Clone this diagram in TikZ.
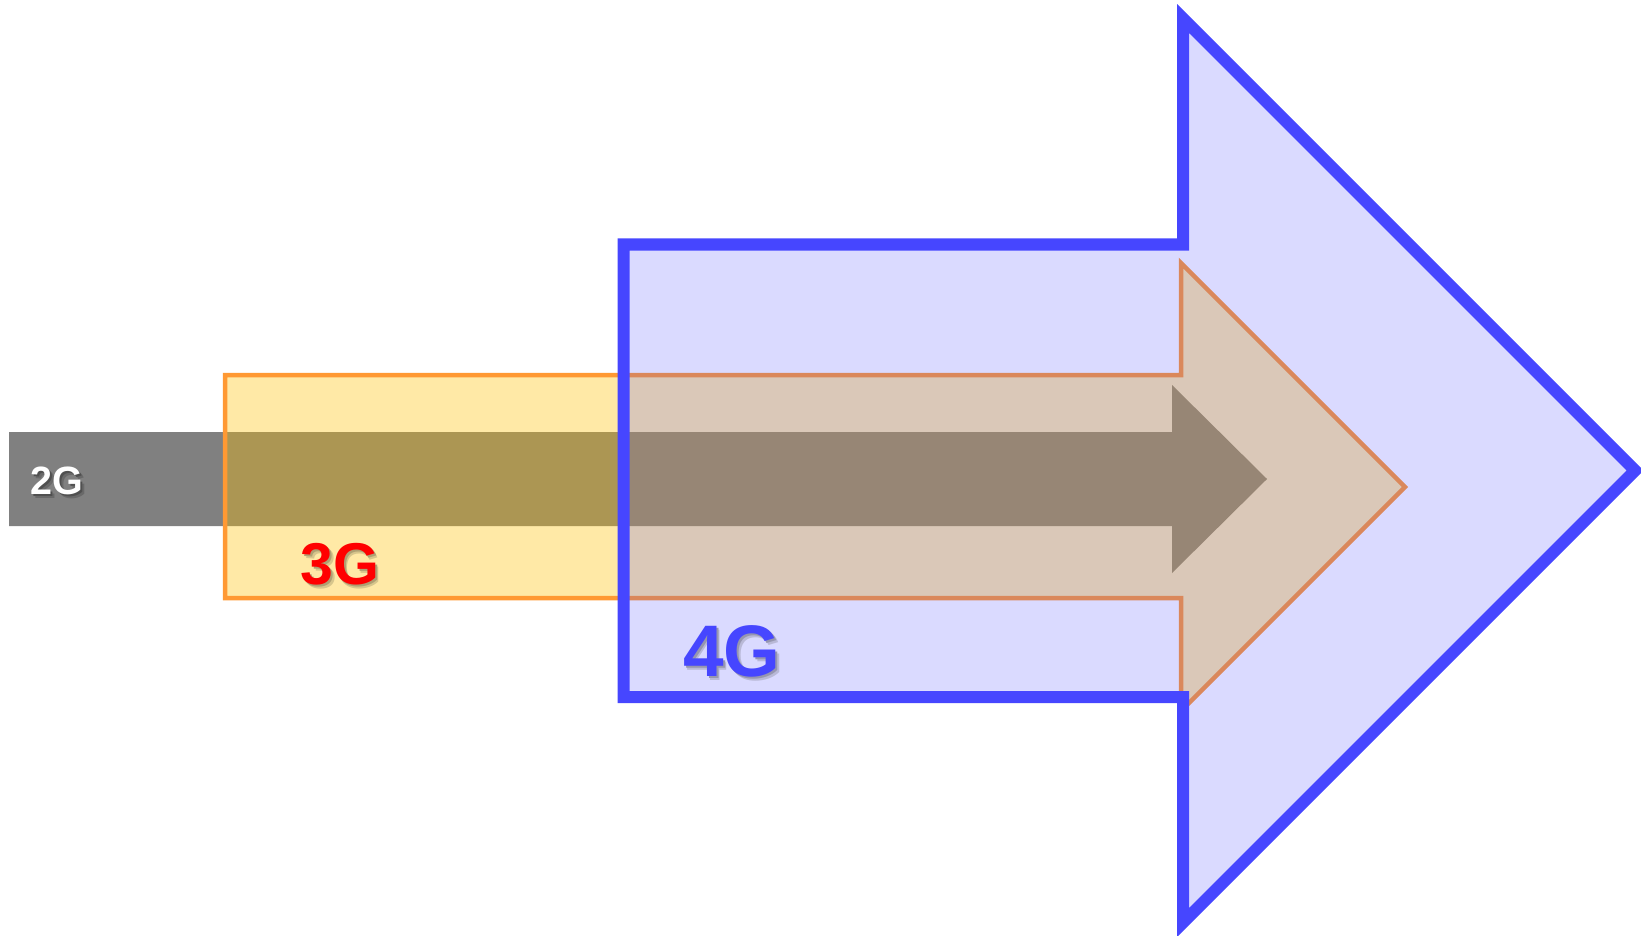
\documentclass[tikz,border=0pt]{standalone}
\usepackage{fontspec}
\setmainfont{Liberation Sans}
\definecolor{gen2}{RGB}{128,128,128}
\definecolor{gen3line}{RGB}{255,153,51}
\definecolor{gen3fill}{RGB}{255,192,0}
\definecolor{gen4}{RGB}{70,70,255}
\definecolor{gen3text}{RGB}{255,0,0}
% drop shadow colours, mixed for each label's background
\definecolor{shade2a}{RGB}{80,80,80}
\definecolor{shade2b}{RGB}{105,105,105}
\definecolor{shade3a}{RGB}{175,160,115}
\definecolor{shade3b}{RGB}{215,198,140}
\definecolor{shade4a}{RGB}{150,150,175}
\definecolor{shade4b}{RGB}{185,185,215}
% #1 near shadow colour, #2 far shadow colour, #3 text
\newcommand\shadowedtext[3]{%
  \makebox[0pt][l]{\kern3.5pt\raisebox{-3.5pt}{\color{#2}#3}}%
  \makebox[0pt][l]{\kern2pt\raisebox{-2pt}{\color{#1}#3}}#3}
\begin{document}
\begin{tikzpicture}[x=1pt,y=-1pt,line join=miter]
\tikzset{
  arrow2g/.style={fill=gen2},
  arrow3g/.style={draw=gen3line,line width=4.5pt,fill=gen3fill,fill opacity=0.35},
  arrow4g/.style={draw=gen4,line width=12pt,fill=gen4,fill opacity=0.2},
  label/.style={inner sep=0pt,anchor=base},
}
\useasboundingbox (0,0) rectangle (1641,936);
\clip (0,0) rectangle (1641,936);

% 2G: narrow grey arrow
\path[arrow2g] (9,432) -- (1172,432) -- (1172,385) -- (1267,479)
  -- (1172,573) -- (1172,526) -- (9,526) -- cycle;

% 3G: orange arrow
\path[arrow3g] (225,375) -- (1181,375) -- (1181,263) -- (1405,487)
  -- (1181,711) -- (1181,598) -- (225,598) -- cycle;

% 4G: wide blue arrow
\path[arrow4g] (623.7,244.5) -- (1183,244.5) -- (1183,18.5) -- (1635,470.5)
  -- (1183,922.5) -- (1183,697) -- (623.7,697) -- cycle;

% labels
\node[label,font=\fontsize{39.5}{39.5}\selectfont\bfseries,text=white] (l2) at (57,494.5)
  {\shadowedtext{shade2a}{shade2b}{2G}};
\node[label,font=\fontsize{59}{59}\selectfont\bfseries,text=gen3text] (l3) at (340,584.5)
  {\shadowedtext{shade3a}{shade3b}{3G}};
\node[label,font=\fontsize{73}{73}\selectfont\bfseries,text=gen4] (l4) at (732,676.5)
  {\shadowedtext{shade4a}{shade4b}{4G}};
\end{tikzpicture}
\end{document}
